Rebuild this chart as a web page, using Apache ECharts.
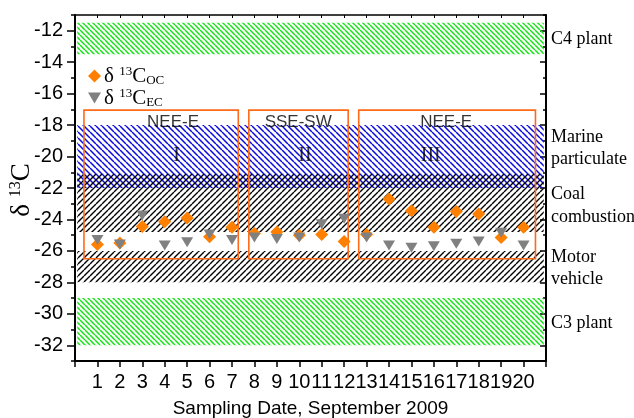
<!DOCTYPE html>
<html>
<head>
<meta charset="utf-8">
<script src="https://cdn.jsdelivr.net/npm/echarts@6/dist/echarts.min.js"></script>
<style>
  html, body { margin: 0; padding: 0; background: #fff; }
  #main { width: 634px; height: 418px; }
</style>
</head>
<body>
<div id="main"></div>
<script>
// sampling days and isotope values
var days = [1, 2, 3, 4, 5, 6, 7, 8, 9, 10, 11, 12, 13, 14, 15, 16, 17, 18, 19, 20];
var ocValues = [-25.6, -25.5, -24.45, -24.15, -23.9, -25.1, -24.5, -24.9, -24.8, -25.0,
                -24.95, -25.4, -24.95, -22.7, -23.45, -24.5, -23.5, -23.65, -25.15, -24.5];
var ecValues = [-25.3, -25.6, -23.75, -25.65, -25.45, -24.95, -25.3, -25.15, -25.25, -25.15,
                -24.3, -23.95, -25.15, -25.65, -25.8, -25.7, -25.55, -25.4, -24.85, -25.65];

// source ranges (hatched bands)
var bandNames = ['C4 plant', 'Marine particulate', 'Coal combustion', 'Motor vehicle', 'C3 plant'];
var bandHigh = [-11.5, -18, -21.1, -26, -29];
var bandLow = [-13.5, -22, -24.8, -28, -32];

// air mass groups
var groupNames = ['NEE-E', 'SSE-SW', 'NEE-E'];
var groupRoman = ['I', 'II', 'III'];
var groupStart = [0.4, 7.75, 12.65];
var groupEnd = [7.28, 12.18, 20.53];
var groupTop = -17.05;
var groupBottom = -26.5;

var yTicks = [-32, -30, -28, -26, -24, -22, -20, -18, -16, -14, -12];
var yMinor = [-33, -31, -29, -27, -25, -23, -21, -19, -17, -15, -13, -11];

function hatch(color, dir, gap, lw) {
  var c = document.createElement('canvas');
  c.width = gap; c.height = gap;
  var g = c.getContext('2d');
  g.strokeStyle = color;
  g.lineWidth = lw;
  g.beginPath();
  for (var k = -1; k <= 1; k++) {
    if (dir == '\\') {
      g.moveTo(k * gap, 0); g.lineTo(k * gap + gap, gap);
    } else {
      g.moveTo(k * gap, gap); g.lineTo(k * gap + gap, 0);
    }
  }
  g.stroke();
  return { image: c, repeat: 'repeat' };
}

var greenHatch = hatch('#18e018', '\\', 5, 1.5);
var blueHatch = hatch('#0c0cdc', '\\', 6, 1.5);
var blackHatch = hatch('#000000', '/', 6, 1.4);
var bandFill = [greenHatch, blueHatch, blackHatch, blackHatch, greenHatch];

var SERIF = '"Liberation Serif", "DejaVu Serif", serif';
var SANS = '"Liberation Sans", Arial, sans-serif';
var ORANGE = '#ff8000';
var GRAY = '#808080';

var bandAreas = [];
for (var i = 0; i < bandNames.length; i++) {
  bandAreas.push([
    { name: bandNames[i], xAxis: 0.1, yAxis: bandHigh[i], itemStyle: { color: bandFill[i], opacity: 1 } },
    { xAxis: 20.9, yAxis: bandLow[i] }
  ]);
}

var boxAreas = [];
var textPoints = [];
for (var j = 0; j < groupNames.length; j++) {
  boxAreas.push([
    { xAxis: groupStart[j], yAxis: groupTop },
    { xAxis: groupEnd[j], yAxis: groupBottom }
  ]);
}
// label spots inside the boxes
var groupLabelX = [4.37, 9.95, 16.55];
var romanX = [4.53, 10.25, 15.86];
for (var j = 0; j < groupNames.length; j++) {
  textPoints.push({ value: [groupLabelX[j], -17.82], name: groupNames[j],
    label: { fontFamily: SANS, fontSize: 17 } });
  textPoints.push({ value: [romanX[j], -19.94], name: groupRoman[j],
    label: { fontFamily: SERIF, fontSize: 20 } });
}

var richC = {
  d: { fontFamily: SERIF, fontSize: 21, lineHeight: 22, color: '#000' },
  s: { fontFamily: SERIF, fontSize: 13, verticalAlign: 'top', color: '#000' },
  b: { fontFamily: SERIF, fontSize: 13, verticalAlign: 'bottom', color: '#000' }
};

var chart = echarts.init(document.getElementById('main'));

var option = {
  backgroundColor: '#ffffff',
  animation: false,
  grid: { left: 75, right: 88, top: 15, bottom: 57, outerBoundsMode: 'none', containLabel: false },
  legend: {
    orient: 'vertical',
    left: 83,
    top: 60,
    itemWidth: 13,
    itemHeight: 13,
    itemGap: 0,
    data: ['OC', 'EC'],
    formatter: function (n) { return '{d|δ }{s|13}{d|C}{b|' + n + '}'; },
    textStyle: { rich: richC, padding: [0, 0, 0, -2] }
  },
  xAxis: [{
    type: 'value', min: 0, max: 21, interval: 1,
    name: 'Sampling Date, September 2009',
    nameLocation: 'middle', nameGap: 38,
    nameTextStyle: { fontFamily: SANS, fontSize: 19, color: '#000' },
    axisLine: { lineStyle: { color: '#000', width: 2 } },
    axisTick: { length: 6, lineStyle: { color: '#000', width: 1.5 } },
    axisLabel: {
      margin: 11, color: '#000', fontFamily: SANS, fontSize: 20,
      formatter: function (v) { return (v >= 1 && v <= 20) ? String(v) : ''; }
    },
    splitLine: { show: false }
  }, {
    type: 'value', min: 0, max: 21, interval: 1, position: 'top',
    axisLine: { lineStyle: { color: '#000', width: 1.5 } },
    axisTick: { inside: true, length: 3, lineStyle: { color: '#000', width: 1 } },
    axisLabel: { show: false },
    splitLine: { show: false }
  }],
  yAxis: [{
    type: 'value', min: -33, max: -11,
    axisLine: { lineStyle: { color: '#000', width: 2 } },
    axisTick: { length: 8, customValues: yTicks, lineStyle: { color: '#000', width: 1.5 } },
    axisLabel: { customValues: yTicks, margin: 12, color: '#000', fontFamily: SANS, fontSize: 20 },
    splitLine: { show: false }
  }, {
    type: 'value', min: -33, max: -11, position: 'left', offset: 0,
    axisLine: { show: false },
    axisTick: { length: 4, customValues: yMinor, lineStyle: { color: '#000', width: 1.5 } },
    axisLabel: { show: false },
    splitLine: { show: false }
  }, {
    type: 'value', min: -33, max: -11, position: 'right', offset: 0,
    axisLine: { lineStyle: { color: '#000', width: 2 } },
    axisTick: { inside: true, length: 6, customValues: yTicks, lineStyle: { color: '#000', width: 1.5 } },
    axisLabel: { show: false },
    splitLine: { show: false }
  }, {
    type: 'value', min: -33, max: -11, position: 'right', offset: 0,
    axisLine: { show: false },
    axisTick: { inside: true, length: 3, customValues: yMinor, lineStyle: { color: '#000', width: 1.5 } },
    axisLabel: { show: false },
    splitLine: { show: false }
  }],
  series: [{
    name: 'OC',
    type: 'scatter',
    z: 2,
    symbol: 'diamond',
    symbolSize: 13,
    itemStyle: { color: ORANGE, opacity: 1 },
    data: days.map(function (d, i) { return [d, ocValues[i]]; })
  }, {
    name: 'EC',
    type: 'scatter',
    z: 2,
    symbol: 'path://M0,0 L12,0 L6,10 Z',
    symbolSize: [12, 10],
    itemStyle: { color: GRAY, opacity: 1 },
    data: days.map(function (d, i) { return [d, ecValues[i]]; })
  }, {
    name: 'bands',
    type: 'scatter',
    z: 3,
    silent: true,
    data: [],
    markArea: { silent: true, label: { show: false }, data: bandAreas }
  }, {
    name: 'boxes',
    type: 'scatter',
    z: 4,
    silent: true,
    data: [],
    markArea: {
      silent: true,
      label: { show: false },
      itemStyle: { color: 'rgba(0,0,0,0)', borderColor: '#ff6a1a', borderWidth: 1.6, opacity: 1 },
      data: boxAreas
    }
  }, {
    name: 'texts',
    type: 'scatter',
    z: 5,
    silent: true,
    symbolSize: 0,
    label: { show: true, position: 'inside', color: '#000', formatter: '{b}' },
    data: textPoints
  }],
  graphic: [
    { type: 'text', x: 22, y: 190, rotation: Math.PI / 2,
      style: { text: '{d|δ }{s|13}{d|C}', align: 'center', verticalAlign: 'middle',
        rich: {
          d: { fontFamily: SERIF, fontSize: 27, lineHeight: 28, fill: '#000' },
          s: { fontFamily: SERIF, fontSize: 16, verticalAlign: 'top', fill: '#000' }
        } } },
    { type: 'text', x: 551, y: 39, style: { text: 'C4 plant', font: '18px ' + SERIF, fill: '#000', verticalAlign: 'middle' } },
    { type: 'text', x: 551, y: 137, style: { text: 'Marine', font: '18px ' + SERIF, fill: '#000', verticalAlign: 'middle' } },
    { type: 'text', x: 551, y: 159, style: { text: 'particulate', font: '18px ' + SERIF, fill: '#000', verticalAlign: 'middle' } },
    { type: 'text', x: 551, y: 194, style: { text: 'Coal', font: '18px ' + SERIF, fill: '#000', verticalAlign: 'middle' } },
    { type: 'text', x: 551, y: 217, style: { text: 'combustion', font: '18px ' + SERIF, fill: '#000', verticalAlign: 'middle' } },
    { type: 'text', x: 551, y: 257, style: { text: 'Motor', font: '18px ' + SERIF, fill: '#000', verticalAlign: 'middle' } },
    { type: 'text', x: 551, y: 279, style: { text: 'vehicle', font: '18px ' + SERIF, fill: '#000', verticalAlign: 'middle' } },
    { type: 'text', x: 551, y: 323, style: { text: 'C3 plant', font: '18px ' + SERIF, fill: '#000', verticalAlign: 'middle' } }
  ]
};

chart.setOption(option);
</script>
</body>
</html>
